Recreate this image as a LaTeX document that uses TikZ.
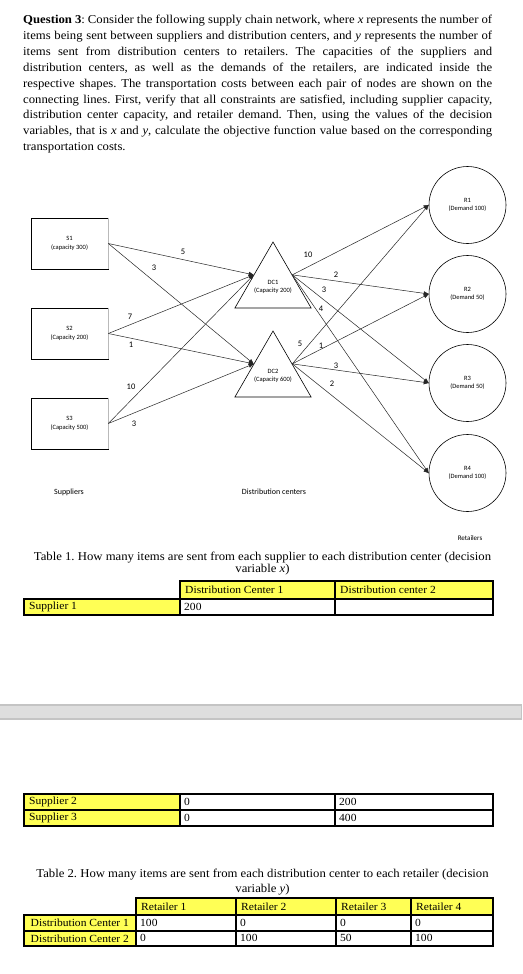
\documentclass[tikz,border=0pt]{standalone}
\usepackage{fontspec}
\setmainfont{Liberation Serif}[FakeStretch=1.06]
\newfontfamily\diag{Carlito}
\usetikzlibrary{arrows.meta,shapes.geometric}
\definecolor{ylw}{RGB}{255,255,85}
\definecolor{barfill}{RGB}{222,222,222}
\definecolor{baredge}{RGB}{196,196,196}
\frenchspacing
\begin{document}
\begin{tikzpicture}[x=1pt,y=-1pt,
  qline/.style={anchor=base west, inner sep=0pt, font=\fontsize{12}{14}\selectfont},
  capline/.style={anchor=base, inner sep=0pt, font=\fontsize{12}{14}\selectfont},
  sbox/.style={draw=black, line width=0.6pt, minimum width=77pt, minimum height=51pt, inner sep=0pt, align=center, font=\diag\fontsize{6.5}{8.5}\selectfont},
  dcnode/.style={regular polygon, regular polygon sides=3, draw=black, line width=0.6pt, minimum size=88pt, inner sep=0pt},
  intext/.style={inner sep=0pt, align=center, font=\diag\fontsize{6.5}{8.5}\selectfont},
  rnode/.style={circle, draw=black, line width=0.6pt, minimum size=77pt, inner sep=0pt, align=center, font=\diag\fontsize{6.5}{8.5}\selectfont},
  link/.style={draw=black!85, line width=0.5pt, -{Triangle[length=5pt,width=4pt]}},
  cost/.style={inner sep=0pt, font=\diag\fontsize{8.5}{9}\selectfont},
  grp/.style={inner sep=0pt, font=\diag\fontsize{8}{9}\selectfont},
  cell/.style={draw=black, line width=1.6pt, anchor=north west, inner sep=0pt},
  ctext/.style={anchor=west, inner sep=0pt, font=\fontsize{10.9}{12}\selectfont},
  ycell/.style={cell, fill=ylw},
  wcell/.style={cell, fill=white}
]
\useasboundingbox (0,0) rectangle (522,974);
\fill[white] (0,0) rectangle (522,974);

% ---------- question text ----------
\node[qline] (q1) at (23,23.5) {\makebox[469pt][s]{\textbf{Question 3}: Consider the following supply chain network, where \textit{x} represents the number of}};
\node[qline] (q2) at (23,39.4) {\makebox[469pt][s]{items being sent between suppliers and distribution centers, and \textit{y} represents the number of}};
\node[qline] (q3) at (23,55.3) {\makebox[469pt][s]{items sent from distribution centers to retailers. The capacities of the suppliers and}};
\node[qline] (q4) at (23,71.2) {\makebox[469pt][s]{distribution centers, as well as the demands of the retailers, are indicated inside the}};
\node[qline] (q5) at (23,87.1) {\makebox[469pt][s]{respective shapes. The transportation costs between each pair of nodes are shown on the}};
\node[qline] (q6) at (23,103.0) {\makebox[469pt][s]{connecting lines. First, verify that all constraints are satisfied, including supplier capacity,}};
\node[qline] (q7) at (23,118.9) {\makebox[469pt][s]{distribution center capacity, and retailer demand. Then, using the values of the decision}};
\node[qline] (q8) at (23,134.8) {\makebox[469pt][s]{variables, that is \textit{x} and \textit{y}, calculate the objective function value based on the corresponding}};
\node[qline] (q9) at (23,150.7) {transportation costs.};

% ---------- network ----------
\node[sbox] (s1) at (69.5,243.5) {S1\\(capacity 300)};
\node[sbox] (s2) at (69.5,333.5) {S2\\(Capacity 200)};
\node[sbox] (s3) at (69.5,423.5) {S3\\(Capacity 500)};
\foreach \s in {s1,s2,s3}{\draw[gray!55, line width=1pt] (\s.north east) -- (\s.south east);}

\node[dcnode] (dc1) at (273,286) {};
\node[dcnode] (dc2) at (273,375) {};
\node[intext] (dc1t) at (273,287) {DC1\\(Capacity 200)};
\node[intext] (dc2t) at (273,376) {DC2\\(Capacity 600)};

\node[rnode] (r1) at (467.5,205) {R1\\(Demand 100)};
\node[rnode] (r2) at (467.5,294) {R2\\(Demand 50)};
\node[rnode] (r3) at (467.5,383) {R3\\(Demand 50)};
\node[rnode] (r4) at (467.5,473) {R4\\(Demand 100)};

\draw[link] (s1.east) -- (dc1.side 1);
\draw[link] (s1.east) -- (dc2.side 1);
\draw[link] (s2.east) -- (dc1.side 1);
\draw[link] (s2.east) -- (dc2.side 1);
\draw[link] (s3.east) -- (dc1.side 1);
\draw[link] (s3.east) -- (dc2.side 1);
\foreach \r in {r1,r2,r3,r4}{
  \draw[link] (dc1.side 3) -- (\r.west);
  \draw[link] (dc2.side 3) -- (\r.west);
}

\node[cost] (c11) at (183,252) {5};
\node[cost] (c12) at (154,268) {3};
\node[cost] (c21) at (130,317) {7};
\node[cost] (c22) at (131,345) {1};
\node[cost] (c31) at (131,387) {10};
\node[cost] (c32) at (134,424) {3};
\node[cost] (d11) at (308,255) {10};
\node[cost] (d12) at (336,275) {2};
\node[cost] (d13) at (324,290) {3};
\node[cost] (d14) at (321,309) {4};
\node[cost] (d21) at (300,344) {5};
\node[cost] (d22) at (321,346) {1};
\node[cost] (d23) at (336,366) {3};
\node[cost] (d24) at (332,384) {2};

\node[grp] (gs) at (69,492) {Suppliers};
\node[grp] (gd) at (274,492) {Distribution centers};
\node[grp, font=\diag\fontsize{7}{8}\selectfont] (gr) at (470,538) {Retailers};

% ---------- table 1 ----------
\node[capline] (t1a) at (262.5,560.5) {Table 1. How many items are sent from each supplier to each distribution center (decision};
\node[capline] (t1b) at (262.5,572) {variable \textit{x})};

\node[ycell, minimum width=155pt, minimum height=18pt] (h12) at (179,580) {};
\node[ycell, minimum width=158pt, minimum height=18pt] (h13) at (334,580) {};
\node[ycell, minimum width=156pt, minimum height=16pt] (a11) at (23,598) {};
\node[wcell, minimum width=155pt, minimum height=16pt] (a12) at (179,598) {};
\node[wcell, minimum width=158pt, minimum height=16pt] (a13) at (334,598) {};
\node[ctext] at ([xshift=6pt]h12.west) {Distribution Center 1};
\node[ctext] at ([xshift=6pt]h13.west) {Distribution center 2};
\node[ctext] at ([xshift=6pt]a11.west) {Supplier 1};
\node[ctext] at ([xshift=5pt]a12.west) {200};

% ---------- gray bar ----------
\fill[barfill] (0,704) rectangle (522,720);
\draw[baredge, line width=1.6pt] (0,704.8) -- (521.5,704.8);
\draw[baredge, line width=1.6pt] (0,719.2) -- (521.5,719.2);
\draw[baredge, line width=1pt] (521.5,704) -- (521.5,720);

% ---------- table 1 continued ----------
\node[ycell, minimum width=156pt, minimum height=16pt] (a21) at (23,793) {};
\node[wcell, minimum width=155pt, minimum height=16pt] (a22) at (179,793) {};
\node[wcell, minimum width=158pt, minimum height=16pt] (a23) at (334,793) {};
\node[ycell, minimum width=156pt, minimum height=16pt] (a31) at (23,809) {};
\node[wcell, minimum width=155pt, minimum height=16pt] (a32) at (179,809) {};
\node[wcell, minimum width=158pt, minimum height=16pt] (a33) at (334,809) {};
\node[ctext] at ([xshift=6pt]a21.west) {Supplier 2};
\node[ctext] at ([xshift=5pt]a22.west) {0};
\node[ctext] at ([xshift=5pt]a23.west) {200};
\node[ctext] at ([xshift=6pt]a31.west) {Supplier 3};
\node[ctext] at ([xshift=5pt]a32.west) {0};
\node[ctext] at ([xshift=5pt]a33.west) {400};

% ---------- table 2 ----------
\node[capline] (t2a) at (262.5,877.5) {Table 2. How many items are sent from each distribution center to each retailer (decision};
\node[capline] (t2b) at (262.5,892) {variable \textit{y})};

\node[ycell, minimum width=100pt, minimum height=17pt] (g1) at (135,897) {};
\node[ycell, minimum width=100pt, minimum height=17pt] (g2) at (235,897) {};
\node[ycell, minimum width=75pt, minimum height=17pt] (g3) at (335,897) {};
\node[ycell, minimum width=82pt, minimum height=17pt] (g4) at (410,897) {};
\node[ctext] at ([xshift=6pt]g1.west) {Retailer 1};
\node[ctext] at ([xshift=6pt]g2.west) {Retailer 2};
\node[ctext] at ([xshift=6pt]g3.west) {Retailer 3};
\node[ctext] at ([xshift=6pt]g4.west) {Retailer 4};

\node[ycell, minimum width=112pt, minimum height=16pt] (b10) at (23,914) {};
\node[wcell, minimum width=100pt, minimum height=16pt] (b11) at (135,914) {};
\node[wcell, minimum width=100pt, minimum height=16pt] (b12) at (235,914) {};
\node[wcell, minimum width=75pt, minimum height=16pt] (b13) at (335,914) {};
\node[wcell, minimum width=82pt, minimum height=16pt] (b14) at (410,914) {};
\node[ycell, minimum width=112pt, minimum height=15pt] (b20) at (23,930) {};
\node[wcell, minimum width=100pt, minimum height=15pt] (b21) at (135,930) {};
\node[wcell, minimum width=100pt, minimum height=15pt] (b22) at (235,930) {};
\node[wcell, minimum width=75pt, minimum height=15pt] (b23) at (335,930) {};
\node[wcell, minimum width=82pt, minimum height=15pt] (b24) at (410,930) {};
\node[ctext, anchor=center] at (b10.center) {Distribution Center 1};
\node[ctext] at ([xshift=5pt]b11.west) {100};
\node[ctext] at ([xshift=5pt]b12.west) {0};
\node[ctext] at ([xshift=5pt]b13.west) {0};
\node[ctext] at ([xshift=5pt]b14.west) {0};
\node[ctext, anchor=center] at (b20.center) {Distribution Center 2};
\node[ctext] at ([xshift=5pt]b21.west) {0};
\node[ctext] at ([xshift=5pt]b22.west) {100};
\node[ctext] at ([xshift=5pt]b23.west) {50};
\node[ctext] at ([xshift=5pt]b24.west) {100};
\end{tikzpicture}
\end{document}
